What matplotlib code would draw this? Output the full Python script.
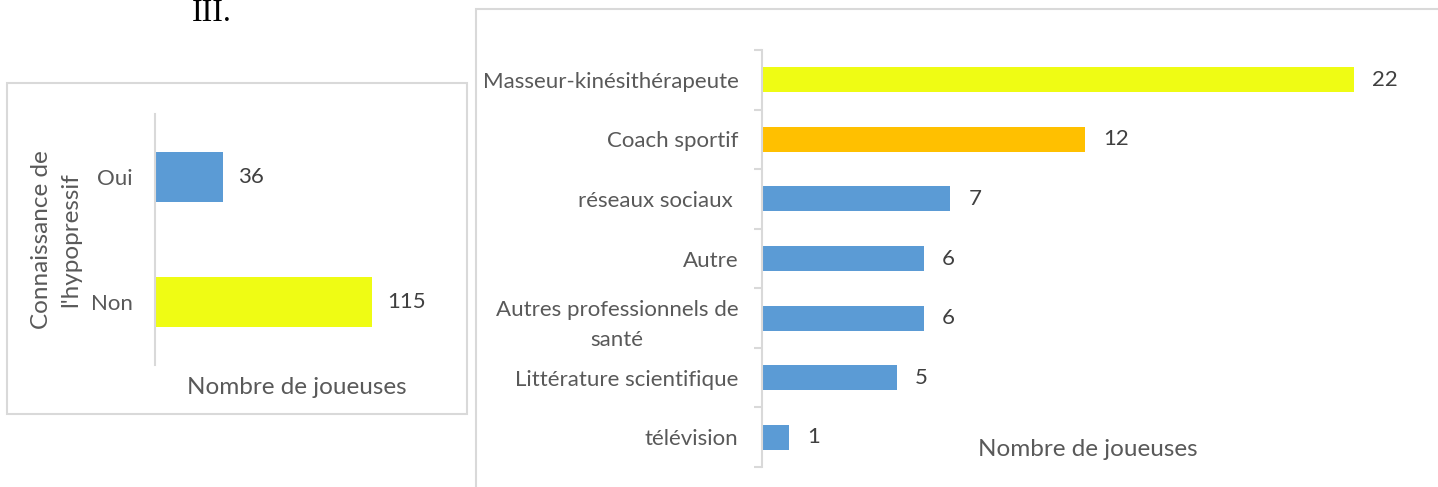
import matplotlib.pyplot as plt
from matplotlib.patches import Rectangle

# left chart: knowledge of hypopressive
know_cats = ["Oui", "Non"]
know_vals = [36, 115]
know_colors = ["#5B9BD5", "#EFFC14"]

# right chart: source of information
src_cats = ["Masseur-kinésithérapeute", "Coach sportif", "réseaux sociaux ", "Autre",
            "Autres professionnels de\nsanté", "Littérature scientifique", "télévision"]
src_vals = [22, 12, 7, 6, 6, 5, 1]
src_colors = ["#EFFC14", "#FFC000", "#5B9BD5", "#5B9BD5", "#5B9BD5", "#5B9BD5", "#5B9BD5"]

W, H = 1438, 487
FONT = "Lato"
FS = 16
FS_T = 17.5
GREY = "#595959"
DARK = "#404040"
AXC = "#D9D9D9"

plt.rcParams["font.family"] = [FONT, "DejaVu Sans"]

fig = plt.figure(figsize=(W / 100, H / 100), dpi=100)


def px(x0, y0, x1, y1):
    # pixel box (top-left origin) -> figure fraction rect
    return [x0 / W, 1 - y1 / H, (x1 - x0) / W, (y1 - y0) / H]


# panel frames
fig.patches.append(Rectangle((7 / W, 1 - 414 / H), 460 / W, 331 / H, transform=fig.transFigure,
                             fill=False, edgecolor=AXC, linewidth=1.5))
fig.patches.append(Rectangle((476 / W, -0.05), (W + 10 - 476) / W, 1.05 - 9 / H, transform=fig.transFigure,
                             fill=False, edgecolor=AXC, linewidth=1.5))

fig.text(212 / W, 1 - 21 / H, "III.", fontsize=23, family="Liberation Serif", ha="center", va="baseline")

# ---- left chart
ax1 = fig.add_axes(px(155, 114, 438, 365))
y1 = list(range(len(know_cats)))
ax1.barh(y1, know_vals, height=0.4, color=know_colors)
ax1.set_ylim(1.5, -0.5)
ax1.set_xlim(0, 150)
ax1.set_yticks(y1)
ax1.set_yticklabels(know_cats, fontsize=FS, color=GREY)
ax1.tick_params(axis="y", length=0, pad=16)
ax1.set_xticks([])
for s in ["top", "right", "bottom"]:
    ax1.spines[s].set_visible(False)
ax1.spines["left"].set_color(AXC)
ax1.spines["left"].set_linewidth(1.5)
for yy, v in zip(y1, know_vals):
    ax1.annotate(str(v), (v, yy), xytext=(11, 0), textcoords="offset points",
                 va="center", ha="left", fontsize=FS, color=DARK)
fig.text(297 / W, 1 - 388 / H, "Nombre de joueuses", fontsize=FS_T, color=GREY, ha="center", va="center")
fig.text(56 / W, 1 - 240 / H, "Connaissance de\nl'hypopressif", fontsize=FS_T, color=GREY,
         ha="center", va="center", rotation=90, multialignment="center", linespacing=1.45)

# ---- right chart
ax2 = fig.add_axes(px(762, 50, 1408, 467))
y2 = list(range(len(src_cats)))
ax2.barh(y2, src_vals, height=0.42, color=src_colors)
ax2.set_ylim(len(src_cats) - 0.5, -0.5)
ax2.set_xlim(0, 24)
ax2.set_yticks(y2)
ax2.set_yticklabels(src_cats, fontsize=FS, color=GREY, multialignment="center")
for lbl in ax2.get_yticklabels():
    lbl.set_linespacing(1.6)
ax2.set_yticks([i - 0.5 for i in range(len(src_cats) + 1)], minor=True)
ax2.tick_params(axis="y", which="major", length=0, pad=17)
ax2.tick_params(axis="y", which="minor", length=6, color=AXC, width=1.5)
ax2.set_xticks([])
for s in ["top", "right", "bottom"]:
    ax2.spines[s].set_visible(False)
ax2.spines["left"].set_color(AXC)
ax2.spines["left"].set_linewidth(1.5)
for yy, v in zip(y2, src_vals):
    ax2.annotate(str(v), (v, yy), xytext=(13, 0), textcoords="offset points",
                 va="center", ha="left", fontsize=FS, color=DARK)
fig.text(1088 / W, 1 - 450 / H, "Nombre de joueuses", fontsize=FS_T, color=GREY, ha="center", va="center")

fig.savefig("out.png", dpi=100)
